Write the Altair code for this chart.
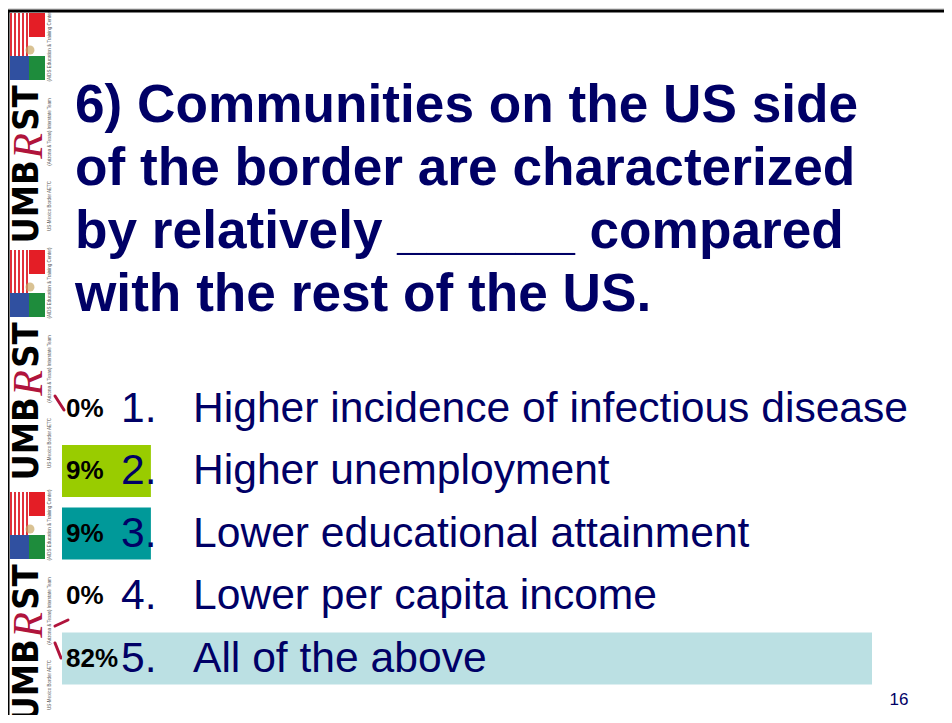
import altair as alt
import pandas as pd

# ---------------- data ----------------
rows = ["1", "2", "3", "4", "5"]
options = ["1.", "2.", "3.", "4.", "5."]
answers = [
    "Higher incidence of infectious disease",
    "Higher unemployment",
    "Lower educational attainment",
    "Lower per capita income",
    "All of the above",
]
percents = [0, 9, 9, 0, 82]
bar_colors = ["#99CC00", "#99CC00", "#009999", "#009999", "#BBE0E3"]
title_lines = [
    "6) Communities on the US side",
    "of the border are characterized",
    "by relatively ______ compared",
    "with the rest of the US.",
]
slide_number = "16"

df = pd.DataFrame({
    "row": rows,
    "option": options,
    "answer": answers,
    "pct": percents,
    "label": [f"{p}%" for p in percents],
})

NAVY = "#000066"
FONT = "Liberation Sans"
RIBBON = "#B0143C"

one = alt.Data(values=[{"a": 1}])

y_enc = alt.Y(
    "row:N",
    scale=alt.Scale(domain=rows, range=[369.25, 681.75], paddingInner=0.168, paddingOuter=0.084),
    axis=None,
)
x_enc = alt.X("pct:Q", scale=alt.Scale(domain=[0, 100], range=[54, 1041.8]), axis=None)

base = alt.Chart(df)

bars = base.mark_bar().encode(
    x=x_enc,
    y=y_enc,
    color=alt.Color("row:N", scale=alt.Scale(domain=rows, range=bar_colors), legend=None),
)

pct_text = base.mark_text(
    align="left", baseline="middle", font=FONT, fontWeight="bold", fontSize=26, color="black"
).encode(x=alt.value(58), y=y_enc, text="label:N")

num_text = base.mark_text(
    align="left", baseline="middle", font=FONT, fontSize=42.6, color=NAVY
).encode(x=alt.value(113), y=y_enc, text="option:N")

ans_text = base.mark_text(
    align="left", baseline="middle", font=FONT, fontSize=42.6, color=NAVY
).encode(x=alt.value(185), y=y_enc, text="answer:N")

title = alt.Chart(one).mark_text(
    align="left", baseline="alphabetic", font=FONT, fontWeight="bold", fontSize=53.2,
    lineHeight=63, color=NAVY
).encode(x=alt.value(67), y=alt.value(114), text=alt.value(title_lines))

page_no = alt.Chart(one).mark_text(
    align="center", baseline="middle", font=FONT, fontSize=17, color=NAVY
).encode(x=alt.value(891), y=alt.value(692), text=alt.value(slide_number))

# ---------------- slide frame ----------------
top_border = alt.Chart(one).mark_rule(color="black", strokeWidth=3).encode(
    x=alt.value(0), x2=alt.value(936), y=alt.value(3))
left_border = alt.Chart(one).mark_rule(color="black", strokeWidth=2).encode(
    x=alt.value(0.5), y=alt.value(2), y2=alt.value(707))


# ---------------- logo strip (decoration) ----------------
def rect(x1, x2, y1, y2, c):
    return alt.Chart(one).mark_rect(color=c).encode(
        x=alt.value(x1), x2=alt.value(x2), y=alt.value(y1), y2=alt.value(y2))


def vtext(cx, cy, s, size, color="black", font="DejaVu Sans Condensed", weight="bold", style="normal"):
    return alt.Chart(one).mark_text(
        angle=270, align="center", baseline="middle", font=font, fontWeight=weight,
        fontStyle=style, fontSize=size, color=color
    ).encode(x=alt.value(cx), y=alt.value(cy), text=alt.value(s))


logo_layers = []
for T in [2, 239, 481]:  # unit tops (chart px)
    # US flag part
    logo_layers.append(rect(2, 21, T + 3, T + 46, "white"))
    for i in range(5):
        logo_layers.append(rect(2 + i * 4, 4 + i * 4, T + 3, T + 46, "#E0303A"))
    logo_layers.append(rect(2, 21, T + 46, T + 70, "#3050A0"))
    # Mexican flag part
    logo_layers.append(rect(21, 37, T + 3, T + 27, "#E41E26"))
    logo_layers.append(rect(21, 37, T + 27, T + 46, "white"))
    logo_layers.append(rect(21, 37, T + 46, T + 70, "#1E8C3C"))
    logo_layers.append(
        alt.Chart(one).mark_point(filled=True, color="#C9A865", size=80).encode(
            x=alt.value(22), y=alt.value(T + 40)))
    # wordmark
    logo_layers.append(vtext(19, T + 98, "ST", 36))
    logo_layers.append(vtext(21, T + 136, "R", 42, RIBBON, "Liberation Serif", "normal", "italic"))
    logo_layers.append(vtext(19, T + 192, "UMB", 36))
    # tiny side captions
    logo_layers.append(vtext(42, T + 36, "(AIDS Education & Training Center)", 4.5, "#555555", "Liberation Sans", "normal"))
    logo_layers.append(vtext(42, T + 122, "(Arizona & Texas) Interstate Team", 4.5, "#555555", "Liberation Sans", "normal"))
    logo_layers.append(vtext(42, T + 196, "US-Mexico Border AETC", 4.5, "#555555", "Liberation Sans", "normal"))


# ribbon tails reaching into the slide
def stroke(x1, y1, x2, y2):
    return alt.Chart(one).mark_rule(color=RIBBON, strokeWidth=3, strokeCap="round").encode(
        x=alt.value(x1), y=alt.value(y1), x2=alt.value(x2), y2=alt.value(y2))


tails = [stroke(47, 388, 56, 402), stroke(47, 618, 60, 612), stroke(47, 635, 53, 650)]

chart = alt.layer(
    *logo_layers, *tails, top_border, left_border,
    bars, pct_text, num_text, ans_text, title, page_no
).properties(
    width=936, height=707, padding=0, autosize="none"
).configure_view(strokeWidth=0).configure(background="white")

chart.save("out.html", embed_options={"renderer": "svg", "actions": False})
